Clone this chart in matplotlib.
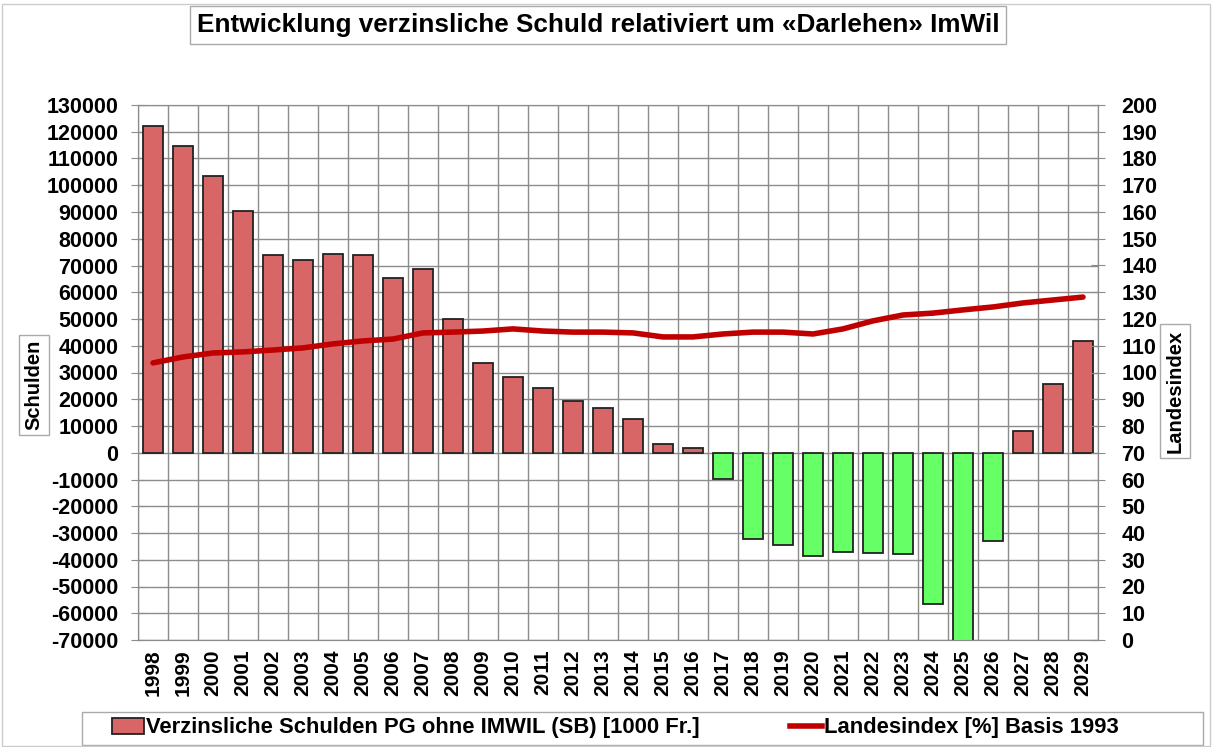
import numpy as np
import matplotlib.pyplot as plt
from matplotlib.patches import Rectangle, Patch
from matplotlib.lines import Line2D

plt.rcParams['font.family'] = ['Liberation Sans', 'DejaVu Sans']
plt.rcParams['font.weight'] = 'bold'
plt.rcParams['axes.unicode_minus'] = False

years = list(range(1998, 2030))
schulden = [122000, 114800, 103500, 90500, 74000, 72100, 74400, 74000, 65400, 68800,
            50100, 33600, 28400, 24300, 19400, 16800, 12700, 3400, 1900, -9700,
            -32100, -34400, -38500, -37000, -37400, -37800, -56400, -75000, -32900,
            8200, 25800, 41900]
landesindex = [103.6, 105.8, 107.3, 107.7, 108.4, 109.2, 110.7, 111.8, 112.5, 114.8,
               115.1, 115.5, 116.3, 115.5, 115.1, 115.1, 114.8, 113.3, 113.3, 114.4,
               115.1, 115.1, 114.4, 116.3, 119.3, 121.5, 122.2, 123.4, 124.5, 126.0,
               127.1, 128.2]

red = '#D96666'
green = '#66FF66'
linecol = '#C00000'
gridcol = '#8C8C8C'

fig = plt.figure(figsize=(12.14, 7.47), dpi=100)
ax = fig.add_axes([138/1214, 1 - 640/747, 960/1214, 535/747])

x = np.arange(len(years))
colors = [red if v >= 0 else green for v in schulden]
ax.bar(x, schulden, width=0.68, color=colors, edgecolor='#222222', linewidth=1.3, zorder=3)

ax.set_xlim(-0.5, len(years) - 0.5)
ax.set_ylim(-70000, 130000)
ax.set_yticks(np.arange(-70000, 130001, 10000))
ax.set_xticks(x)
ax.set_xticklabels([str(y) for y in years], rotation=90, fontsize=15, fontweight='bold')
ax.set_xticks(np.arange(-0.5, len(years), 1), minor=True)
ax.tick_params(axis='x', which='major', length=0, pad=7)
ax.tick_params(axis='x', which='minor', length=0)
ax.tick_params(axis='y', direction='inout', length=10, color=gridcol, labelsize=15.5, pad=9)
for lab in ax.get_yticklabels():
    lab.set_fontweight('bold')
ax.grid(True, axis='y', color=gridcol, linewidth=1, zorder=0)
ax.grid(True, axis='x', which='minor', color=gridcol, linewidth=1, zorder=0)
for s in ax.spines.values():
    s.set_color(gridcol)

ax2 = ax.twinx()
ax2.plot(x, landesindex, color=linecol, linewidth=4, zorder=5, solid_capstyle='round')
ax2.set_ylim(0, 200)
ax2.set_yticks(np.arange(0, 201, 10))
ax2.tick_params(axis='y', direction='inout', length=10, color=gridcol, labelsize=15.5, pad=12)
for lab in ax2.get_yticklabels():
    lab.set_fontweight('bold')
for s in ax2.spines.values():
    s.set_color(gridcol)

box = dict(boxstyle='square,pad=0.25', facecolor='white', edgecolor='#AAAAAA', linewidth=1)
fig.text(598/1214, 1 - 25/747, 'Entwicklung verzinsliche Schuld relativiert um «Darlehen» ImWil',
         ha='center', va='center', fontsize=18.8, fontweight='bold', bbox=box)
fig.text(34/1214, 1 - 385/747, 'Schulden', rotation=90, ha='center', va='center',
         fontsize=14.5, fontweight='bold', bbox=box)
fig.text(1175/1214, 1 - 391/747, 'Landesindex', rotation=90, ha='center', va='center',
         fontsize=14.5, fontweight='bold', bbox=box)

# legend box
fig.patches.append(Rectangle((82/1214, 2/747), (1203 - 82)/1214, 33/747,
                             transform=fig.transFigure, facecolor='white',
                             edgecolor='#AAAAAA', linewidth=1))
handles = [Patch(facecolor=red, edgecolor='#222222', linewidth=1.3),
           Line2D([], [], color=linecol, linewidth=4)]
labels = ['Verzinsliche Schulden PG ohne IMWIL (SB) [1000 Fr.]', 'Landesindex [%] Basis 1993']
fig.legend(handles, labels, loc='center left', bbox_to_anchor=(92/1214, 19/747), ncol=2,
           frameon=False, handlelength=1.46, handletextpad=0.1,
           columnspacing=4.1, prop={'weight': 'bold', 'size': 15.8})

# outer border
fig.patches.append(Rectangle((0.002, 0.002), 0.995, 0.993, transform=fig.transFigure,
                             fill=False, edgecolor='#CCCCCC', linewidth=1))

fig.savefig('out.png', dpi=100)
